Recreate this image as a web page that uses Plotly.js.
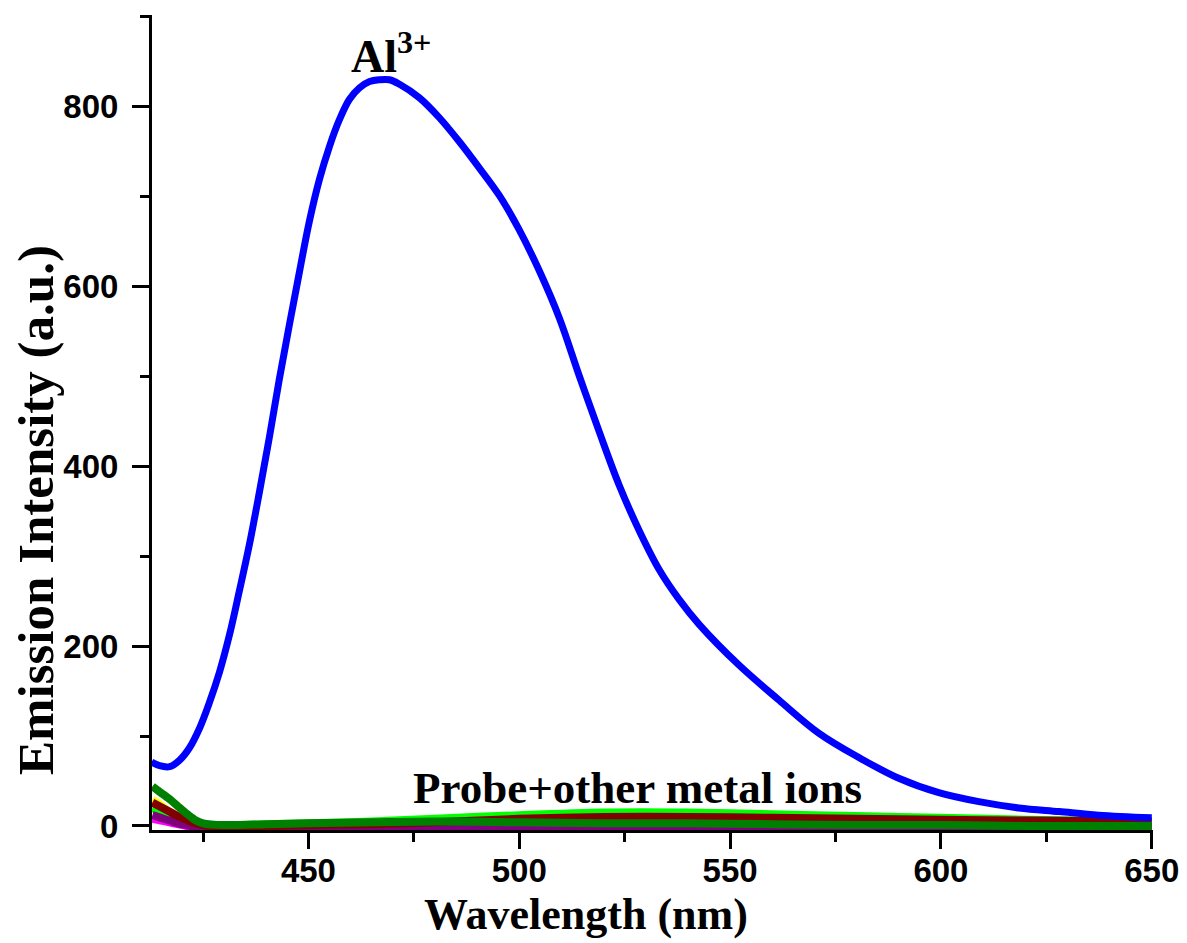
<!DOCTYPE html>
<html>
<head>
<meta charset="utf-8">
<script src="https://cdn.plot.ly/plotly-3.0.1.min.js"></script>
<style>html,body{margin:0;padding:0;background:#fff;}#chart{width:1187px;height:943px;}</style>
</head>
<body>
<div id="chart"></div>
<script>
// Al3+ emission (blue)
const wlAl = [412.8, 414.7, 417.1, 419.4, 421.8, 424.2, 426.5, 428.9, 431.3, 433.6, 436.0, 438.4, 440.8, 443.1, 445.5, 447.9, 450.2, 452.6, 455.0, 457.3, 459.7, 462.1, 464.5, 466.8, 469.2, 471.6, 476.3, 481.0, 485.8, 490.5, 495.3, 500.0, 504.7, 509.5, 514.2, 519.0, 523.7, 528.4, 533.2, 537.9, 542.7, 552.1, 561.6, 571.1, 580.6, 590.0, 599.5, 609.0, 618.5, 628.0, 637.4, 650];
const intAl = [71, 67, 66, 73, 87, 109, 137, 171, 213, 261, 313, 372, 434, 497, 558, 617, 672, 719, 756, 785, 808, 821, 828, 830, 830, 825, 810, 788, 761, 732, 701, 663, 618, 565, 501, 438, 379, 329, 285, 252, 224, 179, 140, 103, 76, 53, 37, 27, 20, 16, 12, 9];

// Probe + other metal ions
const wlOther = [413, 415, 417, 419, 421, 423, 425, 430, 440, 450, 465, 480, 500, 520, 540, 560, 580, 600, 620, 650];
const intYellow = [29, 23, 16, 10, 6, 2, 0, -1, 0, 1, 2, 3, 5, 6, 6, 5, 4, 4, 3, 3];
const intMagenta = [8, 6, 4, 2, 0, -1, -2, -2, -2, -2, -2, -1, -1, -1, -1, -1, -1, -1, -1, -1];
const intLime = [20, 15, 10, 6, 3, 1, 0, 0, 2, 3, 5, 8, 12, 15, 15, 13, 11, 9, 7, 5];
const intPurple = [12, 9, 6, 3, 1, -1, -2, -2, -2, -2, -2, -1, -1, -2, -2, -2, -2, -2, -2, -2];
const intDarkRed = [26, 21, 16, 11, 7, 3, 1, -1, 0, 1, 2, 4, 8, 10, 10, 9, 8, 7, 6, 5];
const intGreen = [44, 37, 30, 22, 14, 7, 3, 1, 2, 3, 4, 5, 4, 3, 3, 2, 1, 1, 0, 0];

const xTickVals = [450, 500, 550, 600, 650];
const yTickVals = [0, 200, 400, 600, 800];

function lowTrace(y, color) {
  return {x: wlOther, y: y, type: 'scatter', mode: 'lines', line: {color: color, width: 8, shape: 'spline', smoothing: 0.8}, hoverinfo: 'skip'};
}
const traces = [
  lowTrace(intYellow, '#ffff00'),
  lowTrace(intMagenta, '#ff00ff'),
  lowTrace(intLime, '#00ff00'),
  lowTrace(intPurple, '#800080'),
  lowTrace(intDarkRed, '#800000'),
  lowTrace(intGreen, '#008000'),
  {x: wlAl, y: intAl, type: 'scatter', mode: 'lines', line: {color: '#0000ff', width: 7, shape: 'spline', smoothing: 1}}
];

const serif = 'Liberation Serif, Times New Roman, serif';
const sans = 'Liberation Sans, Arial, sans-serif';

const layout = {
  width: 1187, height: 943,
  margin: {l: 152, r: 34, t: 15, b: 113},
  paper_bgcolor: '#ffffff', plot_bgcolor: '#ffffff',
  showlegend: false,
  xaxis: {
    range: [412.9, 650.3],
    showgrid: false, zeroline: false,
    showline: true, linecolor: '#000', linewidth: 3,
    ticks: 'outside', ticklen: 16, tickwidth: 3, tickcolor: '#000',
    tickvals: xTickVals,
    ticklabelstandoff: -7,
    tickfont: {family: sans, size: 33, color: '#000', weight: 'bold'},
    minor: {dtick: 50, tick0: 425, ticks: 'outside', ticklen: 9, tickwidth: 3, tickcolor: '#000', showgrid: false}
  },
  yaxis: {
    range: [-4.5, 902],
    showgrid: false, zeroline: false,
    showline: true, linecolor: '#000', linewidth: 3,
    ticks: 'outside', ticklen: 17, tickwidth: 3, tickcolor: '#000',
    tickvals: yTickVals,
    ticklabelstandoff: 7,
    tickfont: {family: sans, size: 33, color: '#000', weight: 'bold'},
    minor: {dtick: 200, tick0: 100, ticks: 'outside', ticklen: 9, tickwidth: 3, tickcolor: '#000', showgrid: false}
  },
  annotations: [
    {xref: 'x', yref: 'y', x: 469.5, y: 860, text: 'Al<sup>3+</sup>', showarrow: false,
     font: {family: serif, size: 46, color: '#000', weight: 'bold'}, xanchor: 'center', yanchor: 'middle'},
    {xref: 'x', yref: 'y', x: 528, y: 42, text: 'Probe+other metal ions', showarrow: false,
     font: {family: serif, size: 45, color: '#000', weight: 'bold'}, xanchor: 'center', yanchor: 'middle'},
    {xref: 'paper', yref: 'paper', x: (586 - 152) / 1001, y: -(914 - 830) / 815, text: 'Wavelength (nm)', showarrow: false,
     font: {family: serif, size: 44, color: '#000', weight: 'bold'}, xanchor: 'center', yanchor: 'middle'},
    {xref: 'paper', yref: 'paper', x: -(152 - 36) / 1001, y: (830 - 510) / 815, text: 'Emission Intensity (a.u.)', showarrow: false, textangle: -90,
     font: {family: serif, size: 51, color: '#000', weight: 'bold'}, xanchor: 'center', yanchor: 'middle'}
  ]
};

Plotly.newPlot('chart', traces, layout, {displayModeBar: false, staticPlot: true});
</script>
</body>
</html>
